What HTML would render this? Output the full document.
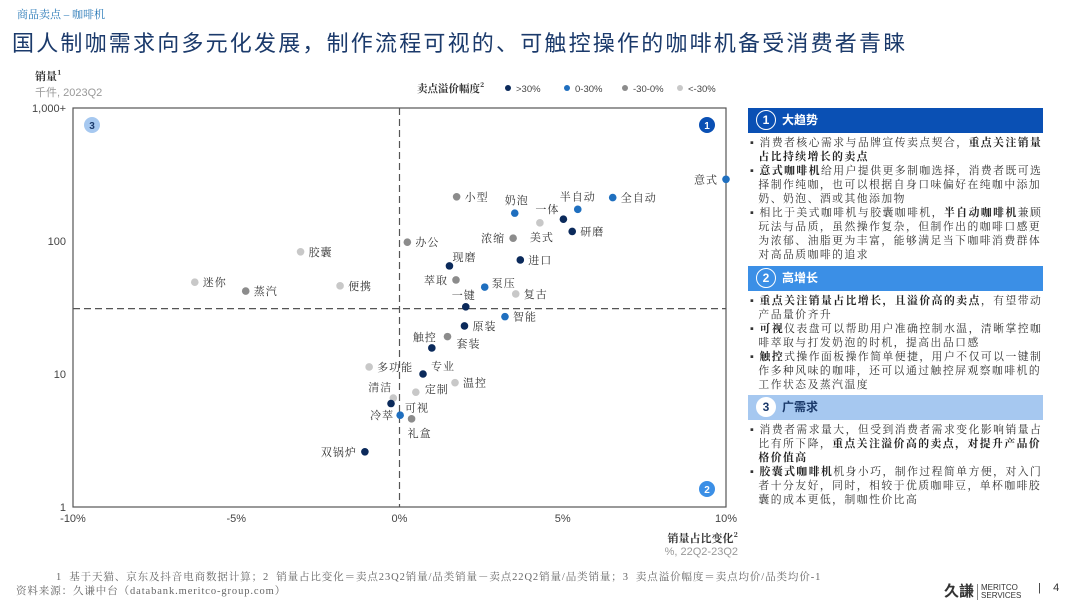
<!DOCTYPE html>
<html><head><meta charset="utf-8">
<style>
body{margin:0;width:1080px;height:608px;overflow:hidden;background:#fff;font-family:"Liberation Sans","Noto Sans CJK SC",sans-serif;position:relative}
.abs{position:absolute}
.serif{font-family:"Liberation Serif","Noto Serif CJK SC",serif}
.hdr{position:absolute;left:748px;width:295px;height:25px;color:#fff;font-size:12px;font-weight:bold;line-height:25px}
.hdr .c{display:inline-block;width:18px;height:18px;border:1.5px solid #fff;border-radius:50%;text-align:center;line-height:18px;margin:2px 6px 0 8px;vertical-align:top;font-family:"Liberation Sans",sans-serif}
.txt{position:absolute;left:750px;width:300px;font-size:10.8px;line-height:14px;color:#333;letter-spacing:1.5px}
.txt div{white-space:nowrap}
.txt b{color:#222}
</style></head><body>
<div class="abs serif" style="left:17px;top:6px;font-size:11px;color:#2a7ab8">商品卖点 – 咖啡机</div>
<div class="abs" style="left:12px;top:26px;font-size:22px;color:#1b3a6b;letter-spacing:2.2px">国人制咖需求向多元化发展，制作流程可视的、可触控操作的咖啡机备受消费者青睐</div>

<svg class="abs" style="left:0;top:0" width="745" height="565">
<g id="frame"></g><g id="marks"></g>
</svg>

<div class="hdr" style="top:108px;background:#0a50b4"><span class="c">1</span>大趋势</div>
<div class="txt serif" style="top:136px">
<div>▪ 消费者核心需求与品牌宣传卖点契合，<b>重点关注销量</b></div>
<div>&nbsp;&nbsp;<b>占比持续增长的卖点</b></div>
<div>▪ <b>意式咖啡机</b>给用户提供更多制咖选择，消费者既可选</div>
<div>&nbsp;&nbsp;择制作纯咖，也可以根据自身口味偏好在纯咖中添加</div>
<div>&nbsp;&nbsp;奶、奶泡、酒或其他添加物</div>
<div>▪ 相比于美式咖啡机与胶囊咖啡机，<b>半自动咖啡机</b>兼顾</div>
<div>&nbsp;&nbsp;玩法与品质，虽然操作复杂，但制作出的咖啡口感更</div>
<div>&nbsp;&nbsp;为浓郁、油脂更为丰富，能够满足当下咖啡消费群体</div>
<div>&nbsp;&nbsp;对高品质咖啡的追求</div>
</div>
<div class="hdr" style="top:266px;background:#3b8fe6"><span class="c">2</span>高增长</div>
<div class="txt serif" style="top:294px">
<div>▪ <b>重点关注销量占比增长，且溢价高的卖点</b>，有望带动</div>
<div>&nbsp;&nbsp;产品量价齐升</div>
<div>▪ <b>可视</b>仪表盘可以帮助用户准确控制水温，清晰掌控咖</div>
<div>&nbsp;&nbsp;啡萃取与打发奶泡的时机，提高出品口感</div>
<div>▪ <b>触控</b>式操作面板操作简单便捷，用户不仅可以一键制</div>
<div>&nbsp;&nbsp;作多种风味的咖啡，还可以通过触控屏观察咖啡机的</div>
<div>&nbsp;&nbsp;工作状态及蒸汽温度</div>
</div>
<div class="hdr" style="top:395px;background:#a6c8f0;color:#1b3a6b"><span class="c" style="background:#fff;color:#1b3a6b">3</span>广需求</div>
<div class="txt serif" style="top:423px">
<div>▪ 消费者需求量大，但受到消费者需求变化影响销量占</div>
<div>&nbsp;&nbsp;比有所下降，<b>重点关注溢价高的卖点，对提升产品价</b></div>
<div>&nbsp;&nbsp;<b>格价值高</b></div>
<div>▪ <b>胶囊式咖啡机</b>机身小巧，制作过程简单方便，对入门</div>
<div>&nbsp;&nbsp;者十分友好，同时，相较于优质咖啡豆，单杯咖啡胶</div>
<div>&nbsp;&nbsp;囊的成本更低，制咖性价比高</div>
</div>

<div class="abs serif" style="left:56px;top:569px;font-size:10.5px;color:#666;letter-spacing:0.9px">1&nbsp; 基于天猫、京东及抖音电商数据计算；2&nbsp; 销量占比变化＝卖点23Q2销量/品类销量－卖点22Q2销量/品类销量；3&nbsp; 卖点溢价幅度＝卖点均价/品类均价-1</div>
<div class="abs serif" style="left:16px;top:583px;font-size:10.5px;color:#666;letter-spacing:0.9px">资料来源：久谦中台（databank.meritco-group.com）</div>
<div class="abs" style="left:944px;top:580px;font-size:15px;font-weight:bold;color:#333">久謙<span style="font-size:8px;font-weight:normal;display:inline-block;border-left:1px solid #888;padding-left:3px;margin-left:3px;line-height:8px;vertical-align:middle">MERITCO<br>SERVICES</span></div>
<div class="abs" style="left:1038px;top:582px;font-size:11px;color:#333">|&nbsp;&nbsp;&nbsp; 4</div>

<script>
const names=["意式","小型","奶泡","半自动","全自动","一体","美式","研磨","浓缩","办公","进口","现磨","萃取","泵压","复古","一键","智能","胶囊","迷你","蒸汽","便携","多功能","清洁","可视","冷萃","礼盒","定制","温控","专业","触控","套装","原装","双锅炉"];
const shareChange=[10.0,1.75,3.53,5.46,6.53,5.02,4.3,5.29,3.48,0.24,3.70,1.53,1.73,2.61,3.56,2.03,3.23,-3.03,-6.27,-4.71,-1.82,-0.93,-0.19,-0.26,0.02,0.37,0.5,1.7,0.72,0.99,1.47,1.99,-1.06];
const volume=[291,215,162,173,212,146,137,118,105,98,72,65,51,45,40,32,27,83,49,42,46,11.3,6.6,6.0,4.9,4.6,7.3,8.6,10,15.7,19.1,23,2.6];
const premiumGroup=[1,2,1,1,1,0,3,0,2,2,0,0,2,1,3,0,1,3,3,2,3,3,3,0,1,2,3,3,0,0,2,0,0];
const groupLabels=[">30%","0-30%","-30-0%","<-30%"];
const xTicks=[-10,-5,0,5,10];
const xTickLabels=["-10%","-5%","0%","5%","10%"];
const yTicks=[1,10,100,1000];
const yTickLabels=["1","10","100","1,000+"];
const xDivider=0, yDivider=31;
// label placement (layout only)
const labelOffsets=[[-8,0,"end"],[8,0],[-10,-13],[-18,-13],[8,0],[-28,-10],[-10,14],[8,0],[-8,0,"end"],[8,0],[8,0],[3,-9],[-8,0,"end"],[7,-4],[8,0],[-14,-12],[8,0],[8,0],[8,0],[8,0],[8,0],[8,0],[-25,-11],[14,4],[-6,0,"end"],[-4,14],[9,-3],[8,0],[8,-8],[-19,-11],[9,7],[8,0],[-8,0,"end"]];
const colors=["#0b2a5b","#1f6fbf","#8c8c8c","#c8c8c8"];
const X0=73,X1=726,Ytop=108,Ybot=507;
const xs=v=>X0+(v+10)/20*(X1-X0);
const ys=v=>Ybot-Math.log10(v)/3*(Ybot-Ytop);
const NS="http://www.w3.org/2000/svg";
function mk(tag,attrs,parent,text){const e=document.createElementNS(NS,tag);for(const k in attrs)e.setAttribute(k,attrs[k]);if(text!==undefined)e.textContent=text;parent.appendChild(e);return e;}
const frame=document.getElementById('frame'),marks=document.getElementById('marks');
let r=mk('rect',{x:X0,y:Ytop,width:X1-X0,height:Ybot-Ytop,fill:'none',stroke:'#555','stroke-width':1.2},frame);


let l=mk('line',{x1:xs(xDivider),x2:xs(xDivider),y1:Ytop,y2:Ybot,stroke:'#555','stroke-dasharray':'7,4','stroke-width':1.2},frame);


l=mk('line',{x1:X0,x2:X1,y1:ys(yDivider),y2:ys(yDivider),stroke:'#555','stroke-dasharray':'7,4','stroke-width':1.2},frame);


xTicks.forEach((t,i)=>{const e=mk('text',{x:xs(t),y:522,'text-anchor':'middle','font-size':11,fill:'#444'},frame,xTickLabels[i]);

});
yTicks.forEach((t,i)=>{const e=mk('text',{x:66,y:ys(t)+4,'text-anchor':'end','font-size':11,fill:'#444'},frame,yTickLabels[i]);

});
function txt(x,y,s,attrs,name){const e=mk('text',Object.assign({x:x,y:y,'font-size':11,fill:'#333'},attrs||{}),frame,s);

return e;}
txt(35,80,"销量¹",{'font-weight':'bold','font-family':'"Noto Serif CJK SC",serif'},'y-axis-title');
txt(35,96,"千件, 2023Q2",{fill:'#999'},'y-axis-unit');
txt(738,542,"销量占比变化²",{'text-anchor':'end','font-weight':'bold','font-family':'"Noto Serif CJK SC",serif'},'x-axis-title');
txt(738,555,"%, 22Q2-23Q2",{'text-anchor':'end',fill:'#999'},'x-axis-unit');
txt(417,92,"卖点溢价幅度²",{'font-weight':'bold','font-size':10.5,'font-family':'"Noto Serif CJK SC",serif'},'legend-title');
const lx=[508,567,625,680];
groupLabels.forEach((g,i)=>{const c=mk('circle',{cx:lx[i],cy:88,r:3,fill:colors[i]},frame);


txt(lx[i]+8,92,g,{'font-size':9.5,fill:'#444'},'legend-entry');});
[[92,125,'3','#a6c8f0','#1b3a6b'],[707,125,'1','#0a50b4','#fff'],[707,489,'2','#3b8fe6','#fff']].forEach(b=>{
const c=mk('circle',{cx:b[0],cy:b[1],r:8,fill:b[3]},frame);


txt(b[0],b[1]+4,b[2],{'text-anchor':'middle','font-size':10,'font-weight':'bold',fill:b[4]},'quadrant-number');});
names.forEach((n,i)=>{
const cx=xs(shareChange[i]),cy=ys(volume[i]);
const c=mk('circle',{cx:cx,cy:cy,r:3.8,fill:colors[premiumGroup[i]]},marks);


const o=labelOffsets[i];
const t=mk('text',{x:cx+o[0],y:cy+o[1]+4,'text-anchor':o[2]||'start','font-size':11,fill:'#333','font-family':'"Noto Serif CJK SC",serif','letter-spacing':1},marks,n);


});
</script>
</body></html>
